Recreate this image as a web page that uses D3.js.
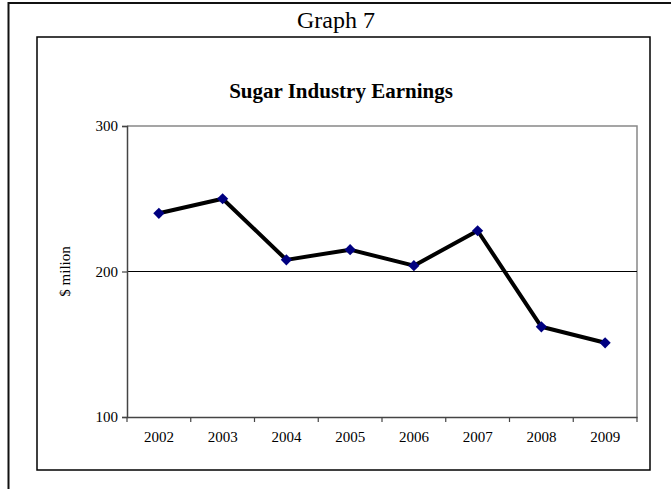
<!DOCTYPE html>
<html>
<head>
<style>
  body { margin: 0; background: #fff; }
  svg text { font-family: "Liberation Serif", "Times New Roman", serif; fill: #000; }
</style>
</head>
<body>
<svg width="671" height="489"></svg>
<script src="https://d3js.org/d3.v7.min.js"></script>
<script>
var years = ["2002", "2003", "2004", "2005", "2006", "2007", "2008", "2009"];
var earnings = [240, 250, 208, 215, 204, 228, 162, 151];
var yTicks = [100, 200, 300];

var svg = d3.select("svg");

// outer frame (only top and left visible)
svg.append("path")
    .attr("d", "M8.5,489V3H671")
    .attr("fill", "none")
    .attr("stroke", "#111")
    .attr("stroke-width", 2);

svg.append("text")
    .attr("x", 336).attr("y", 28)
    .attr("text-anchor", "middle")
    .style("font-size", "24px")
    .text("Graph 7");

// chart frame
svg.append("rect")
    .attr("x", 37).attr("y", 37)
    .attr("width", 613).attr("height", 433)
    .attr("fill", "none")
    .attr("stroke", "#000")
    .attr("stroke-width", 1.5);

svg.append("text")
    .attr("x", 341).attr("y", 98)
    .attr("text-anchor", "middle")
    .style("font-size", "21px")
    .style("font-weight", "bold")
    .text("Sugar Industry Earnings");

var margin = {left: 127, top: 126, right: 637, bottom: 417};

var x = d3.scaleBand()
    .domain(years)
    .range([margin.left, margin.right]);

var y = d3.scaleLinear()
    .domain([100, 300])
    .range([margin.bottom, margin.top]);

// plot border top/right in grey
svg.append("path")
    .attr("d", "M" + margin.left + "," + margin.top + "H" + margin.right + "V" + margin.bottom)
    .attr("fill", "none")
    .attr("stroke", "#888")
    .attr("stroke-width", 1.5);

// gridline at 200
svg.append("g")
    .selectAll("line")
    .data(yTicks.filter(function(d) { return d > 100 && d < 300; }))
    .enter().append("line")
    .attr("x1", margin.left).attr("x2", margin.right)
    .attr("y1", function(d) { return y(d); })
    .attr("y2", function(d) { return y(d); })
    .attr("stroke", "#000")
    .attr("stroke-width", 1);

// y axis
var yAxis = svg.append("g")
    .attr("transform", "translate(" + margin.left + ",0)")
    .call(d3.axisLeft(y).tickValues(yTicks).tickSize(5).tickPadding(4));
yAxis.select(".domain").attr("stroke", "#444").attr("stroke-width", 1.5);
yAxis.selectAll(".tick line").attr("stroke", "#444").attr("stroke-width", 1.2);
yAxis.selectAll("text")
    .style("font-size", "15px")
    .style("font-family", "Liberation Serif, serif");

// x axis with ticks at category boundaries
var xAxis = svg.append("g")
    .attr("transform", "translate(0," + margin.bottom + ")")
    .call(d3.axisBottom(x).tickSize(0).tickPadding(14));
xAxis.select(".domain").attr("stroke", "#444").attr("stroke-width", 1.5);
xAxis.selectAll("text")
    .style("font-size", "15px")
    .style("font-family", "Liberation Serif, serif");
xAxis.selectAll(".bound")
    .data(years.concat(["end"]))
    .enter().append("line")
    .attr("class", "bound")
    .attr("x1", function(d, i) { return margin.left + i * x.step(); })
    .attr("x2", function(d, i) { return margin.left + i * x.step(); })
    .attr("y1", 0).attr("y2", 5)
    .attr("stroke", "#444")
    .attr("stroke-width", 1.2);

// y axis title
svg.append("text")
    .attr("transform", "translate(70," + ((margin.top + margin.bottom) / 2) + ") rotate(-90)")
    .attr("text-anchor", "middle")
    .style("font-size", "15px")
    .text("$ milion");

// line
var pts = years.map(function(d, i) { return {year: d, value: earnings[i]}; });
var line = d3.line()
    .x(function(d) { return x(d.year) + x.bandwidth() / 2; })
    .y(function(d) { return y(d.value); });

svg.append("path")
    .datum(pts)
    .attr("d", line)
    .attr("fill", "none")
    .attr("stroke", "#000")
    .attr("stroke-width", 4)
    .attr("stroke-linejoin", "round");

svg.append("g")
    .selectAll("path")
    .data(pts)
    .enter().append("path")
    .attr("d", d3.symbol().type(d3.symbolDiamond2).size(80))
    .attr("transform", function(d) { return "translate(" + (x(d.year) + x.bandwidth() / 2) + "," + y(d.value) + ")"; })
    .attr("fill", "#000080");
</script>
</body>
</html>
